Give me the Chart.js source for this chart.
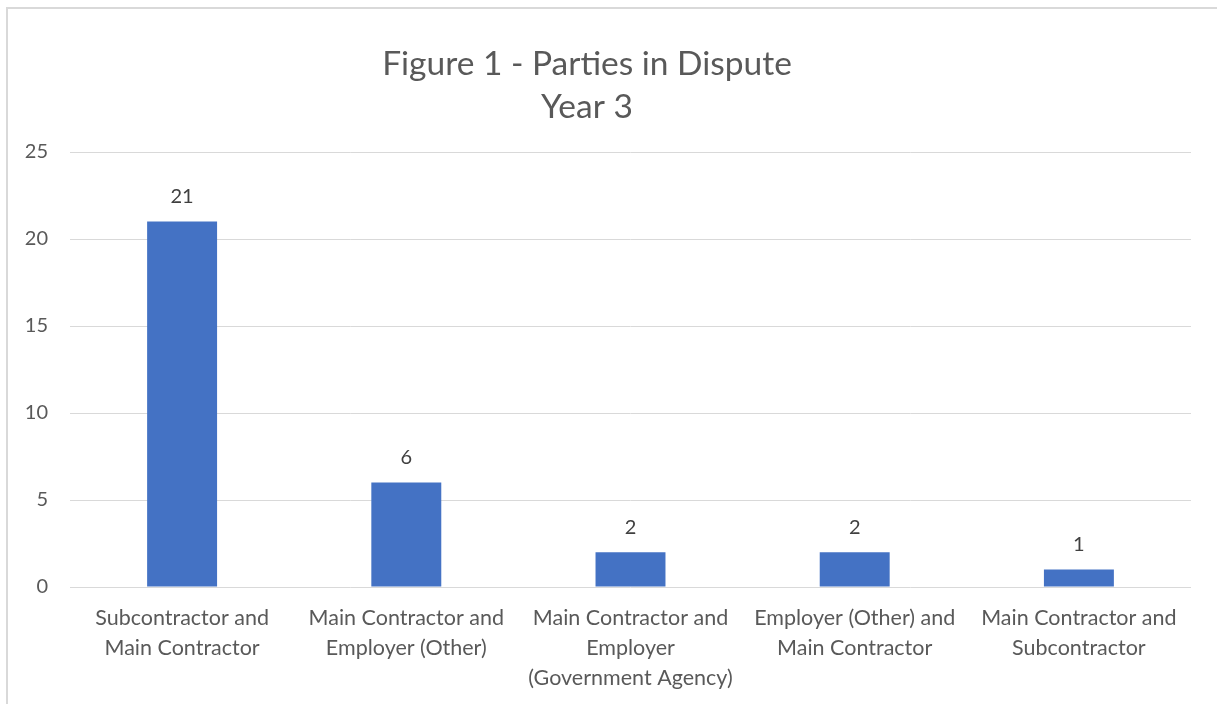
<!DOCTYPE html>
<html>
<head>
<meta charset="utf-8">
<script src="https://cdn.jsdelivr.net/npm/chart.js@4/dist/chart.umd.min.js"></script>
<style>
html,body{margin:0;padding:0;background:#fff;}
#wrap{position:absolute;left:0;top:0;width:1217px;height:704px;}
#frame{position:absolute;left:6px;top:7px;width:1300px;height:800px;border-top:2px solid #d9d9d9;border-left:2px solid #d9d9d9;box-sizing:border-box;}
canvas{position:absolute;left:0;top:0;}
</style>
</head>
<body>
<div id="wrap">
<div id="frame"></div>
<canvas id="c" width="1217" height="704"></canvas>
</div>
<script>
const titleLines = ["Figure 1 - Parties in Dispute", "Year 3"];
const categories = [
  ["Subcontractor and", "Main Contractor"],
  ["Main Contractor and", "Employer (Other)"],
  ["Main Contractor and", "Employer", "(Government Agency)"],
  ["Employer (Other) and", "Main Contractor"],
  ["Main Contractor and", "Subcontractor"]
];
const values = [21, 6, 2, 2, 1];
const yTicks = [0, 5, 10, 15, 20, 25];

const FONT = "Lato, 'Open Sans', sans-serif";

const titlePlugin = {
  id: 'customTitle',
  afterDraw(chart) {
    const ctx = chart.ctx;
    ctx.save();
    ctx.fillStyle = '#595959';
    ctx.font = "33.5px " + FONT;
    ctx.textAlign = 'center';
    ctx.textBaseline = 'middle';
    ctx.fillText(titleLines[0], 587, 64);
    ctx.fillText(titleLines[1], 587, 107);
    ctx.restore();
  }
};

const labelPlugin = {
  id: 'valueLabels',
  afterDatasetsDraw(chart) {
    const ctx = chart.ctx;
    const meta = chart.getDatasetMeta(0);
    ctx.save();
    ctx.fillStyle = '#404040';
    ctx.font = "20px " + FONT;
    ctx.textAlign = 'center';
    ctx.textBaseline = 'middle';
    meta.data.forEach((bar, i) => {
      ctx.fillText(String(values[i]), bar.x, bar.y - 25);
    });
    ctx.restore();
  }
};

new Chart(document.getElementById('c'), {
  type: 'bar',
  data: {
    labels: categories,
    datasets: [{
      data: values,
      backgroundColor: '#4472c4',
      borderWidth: 0,
      categoryPercentage: 1,
      barPercentage: 0.312
    }]
  },
  options: {
    responsive: false,
    animation: false,
    devicePixelRatio: 1,
    layout: { padding: { left: 0, right: 26, top: 152, bottom: 0 } },
    plugins: { legend: { display: false }, title: { display: false }, tooltip: { enabled: false } },
    scales: {
      x: {
        grid: { display: false, drawTicks: false },
        border: { display: false },
        ticks: { color: '#595959', font: { family: FONT, size: 21.5, lineHeight: '30px' }, padding: 16, maxRotation: 0, autoSkip: false },
        afterFit(scale) { scale.height = 117; }
      },
      y: {
        min: 0, max: 25,
        afterBuildTicks(scale) { scale.ticks = yTicks.map(v => ({ value: v })); },
        grid: { color: '#d9d9d9', lineWidth: 1, drawTicks: false },
        border: { display: false },
        ticks: { color: '#595959', font: { family: FONT, size: 20 }, padding: 22 },
        afterFit(scale) { scale.width = 70; }
      }
    }
  },
  plugins: [titlePlugin, labelPlugin]
});
</script>
</body>
</html>
